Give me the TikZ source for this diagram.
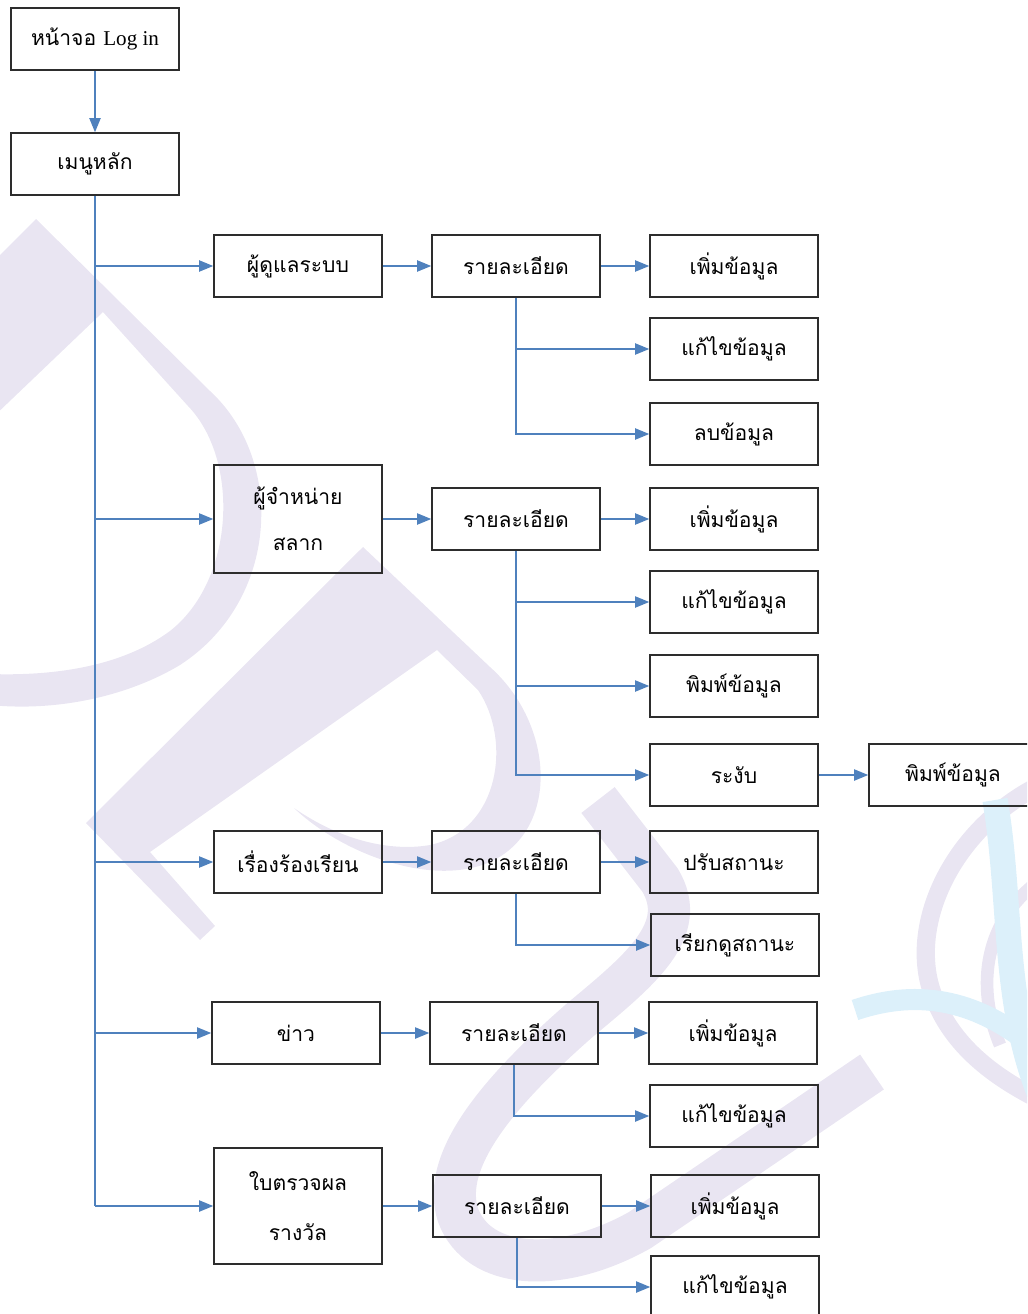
\documentclass[tikz,border=0pt]{standalone}
\usepackage{fontspec}
\setmainfont{Liberation Serif}
\newfontfamily\thaifont[Script=Thai]{Loma}
\usetikzlibrary{arrows.meta,positioning}
\definecolor{linkblue}{RGB}{79,129,189}
\definecolor{boxgray}{RGB}{45,45,45}
\definecolor{wmlav}{RGB}{233,229,242}
\definecolor{wmcyan}{RGB}{220,240,250}
\tikzset{
  menubox/.style={draw=boxgray, line width=1.1pt, minimum width=4.2cm,
    minimum height=1.55cm, inner sep=0pt, align=center,
    font=\thaifont\fontsize{15}{33}\selectfont},
  tallbox/.style={menubox, minimum height=2.75cm},
  link/.style={draw=linkblue, line width=0.9pt, -{Triangle[length=10pt,width=8pt]}},
  trunk/.style={draw=linkblue, line width=0.9pt},
}

\begin{document}
\begin{tikzpicture}[x=0.025cm,y=-0.025cm]
\useasboundingbox (0,0) rectangle (1027,1314);
\clip (0,0) rectangle (1027,1314);

% background logo
\fill[wmlav, even odd rule]
  (36,219) -- (-10,265) -- (-10,705) .. controls (60,712) and (130,695) .. (180,665)
  .. controls (280,600) and (285,460) .. (210,391) -- cycle
  (-10,420) -- (103,312) -- (188,406) .. controls (240,460) and (235,580) .. (170,631)
  .. controls (120,668) and (50,676) .. (-10,674) -- cycle;
\fill[wmlav]
  (363,547) -- (490,667) .. controls (555,725) and (560,830) .. (490,862)
  .. controls (430,888) and (340,852) .. (294,808)
  .. controls (340,840) and (390,852) .. (430,845)
  .. controls (500,830) and (512,740) .. (478,690) -- (437,650)
  -- (150,852) -- (215,926) -- (200,940) -- (86,823) -- cycle;
\draw[wmlav, line width=30pt]
  (598,800) -- (660,880) .. controls (690,930) and (640,970) .. (580,1020)
  .. controls (500,1090) and (440,1160) .. (458,1215)
  .. controls (478,1270) and (560,1275) .. (640,1230) -- (872,1072);
\draw[wmlav, line width=13pt]
  (1040,785) .. controls (950,830) and (905,930) .. (935,1000)
  .. controls (955,1050) and (1000,1080) .. (1040,1100);
\draw[wmlav, line width=9pt]
  (1040,880) .. controls (985,920) and (975,985) .. (1000,1045);
\draw[wmcyan, line width=15pt]
  (855,1010) .. controls (920,988) and (980,1000) .. (1040,1052);
\draw[wmcyan, line width=18pt]
  (995,800) .. controls (1012,900) and (1002,1000) .. (1040,1095);

% main menu
\node[menubox] (login) at (95,39) {หน้าจอ {\rmfamily Log in}};
\node[menubox] (menu) at (95,164) {เมนูหลัก};

% first level
\node[menubox] (admin) at (298,266) {ผู้ดูแลระบบ};
\node[tallbox, minimum height=2.7cm] (seller) at (298,519) {ผู้จำหน่าย\\สลาก};
\node[menubox] (complain) at (298,862) {เรื่องร้องเรียน};
\node[menubox] (news) at (296,1033) {ข่าว};
\node[tallbox, minimum height=2.9cm] (award) at (298,1206) {ใบตรวจผล\\[2pt]รางวัล};

% details
\node[menubox] (admdet) at (516,266) {รายละเอียด};
\node[menubox] (seldet) at (516,519) {รายละเอียด};
\node[menubox] (comdet) at (516,862) {รายละเอียด};
\node[menubox] (newsdet) at (514,1033) {รายละเอียด};
\node[menubox] (awddet) at (517,1206) {รายละเอียด};

% actions
\node[menubox] (admadd) at (734,266) {เพิ่มข้อมูล};
\node[menubox] (admedit) at (734,349) {แก้ไขข้อมูล};
\node[menubox] (admdel) at (734,434) {ลบข้อมูล};
\node[menubox] (seladd) at (734,519) {เพิ่มข้อมูล};
\node[menubox] (seledit) at (734,602) {แก้ไขข้อมูล};
\node[menubox] (selprint) at (734,686) {พิมพ์ข้อมูล};
\node[menubox] (selhold) at (734,775) {ระงับ};
\node[menubox] (holdprint) at (953,775) {พิมพ์ข้อมูล};
\node[menubox] (comupd) at (734,862) {ปรับสถานะ};
\node[menubox] (comview) at (735,945) {เรียกดูสถานะ};
\node[menubox] (newsadd) at (733,1033) {เพิ่มข้อมูล};
\node[menubox] (newsedit) at (734,1116) {แก้ไขข้อมูล};
\node[menubox] (awdadd) at (735,1206) {เพิ่มข้อมูล};
\node[menubox] (awdedit) at (735,1287) {แก้ไขข้อมูล};

% connectors
\draw[link] (login) -- (menu);
\draw[trunk] (menu.south) -- (menu.south |- award.west);
\foreach \n in {admin,seller,complain,news,award}
  \draw[link] (menu.south |- \n.west) -- (\n.west);

\foreach \a/\b in {admin/admdet, admdet/admadd, seller/seldet, seldet/seladd,
                   selhold/holdprint, complain/comdet, comdet/comupd,
                   news/newsdet, newsdet/newsadd, award/awddet, awddet/awdadd}
  \draw[link] (\a.east) -- (\b.west);

\foreach \d/\c in {admdet/admedit, admdet/admdel, seldet/seledit, seldet/selprint,
                   seldet/selhold, comdet/comview, newsdet/newsedit, awddet/awdedit}
  \draw[link] (\d.south) |- (\c.west);

\end{tikzpicture}
\end{document}
